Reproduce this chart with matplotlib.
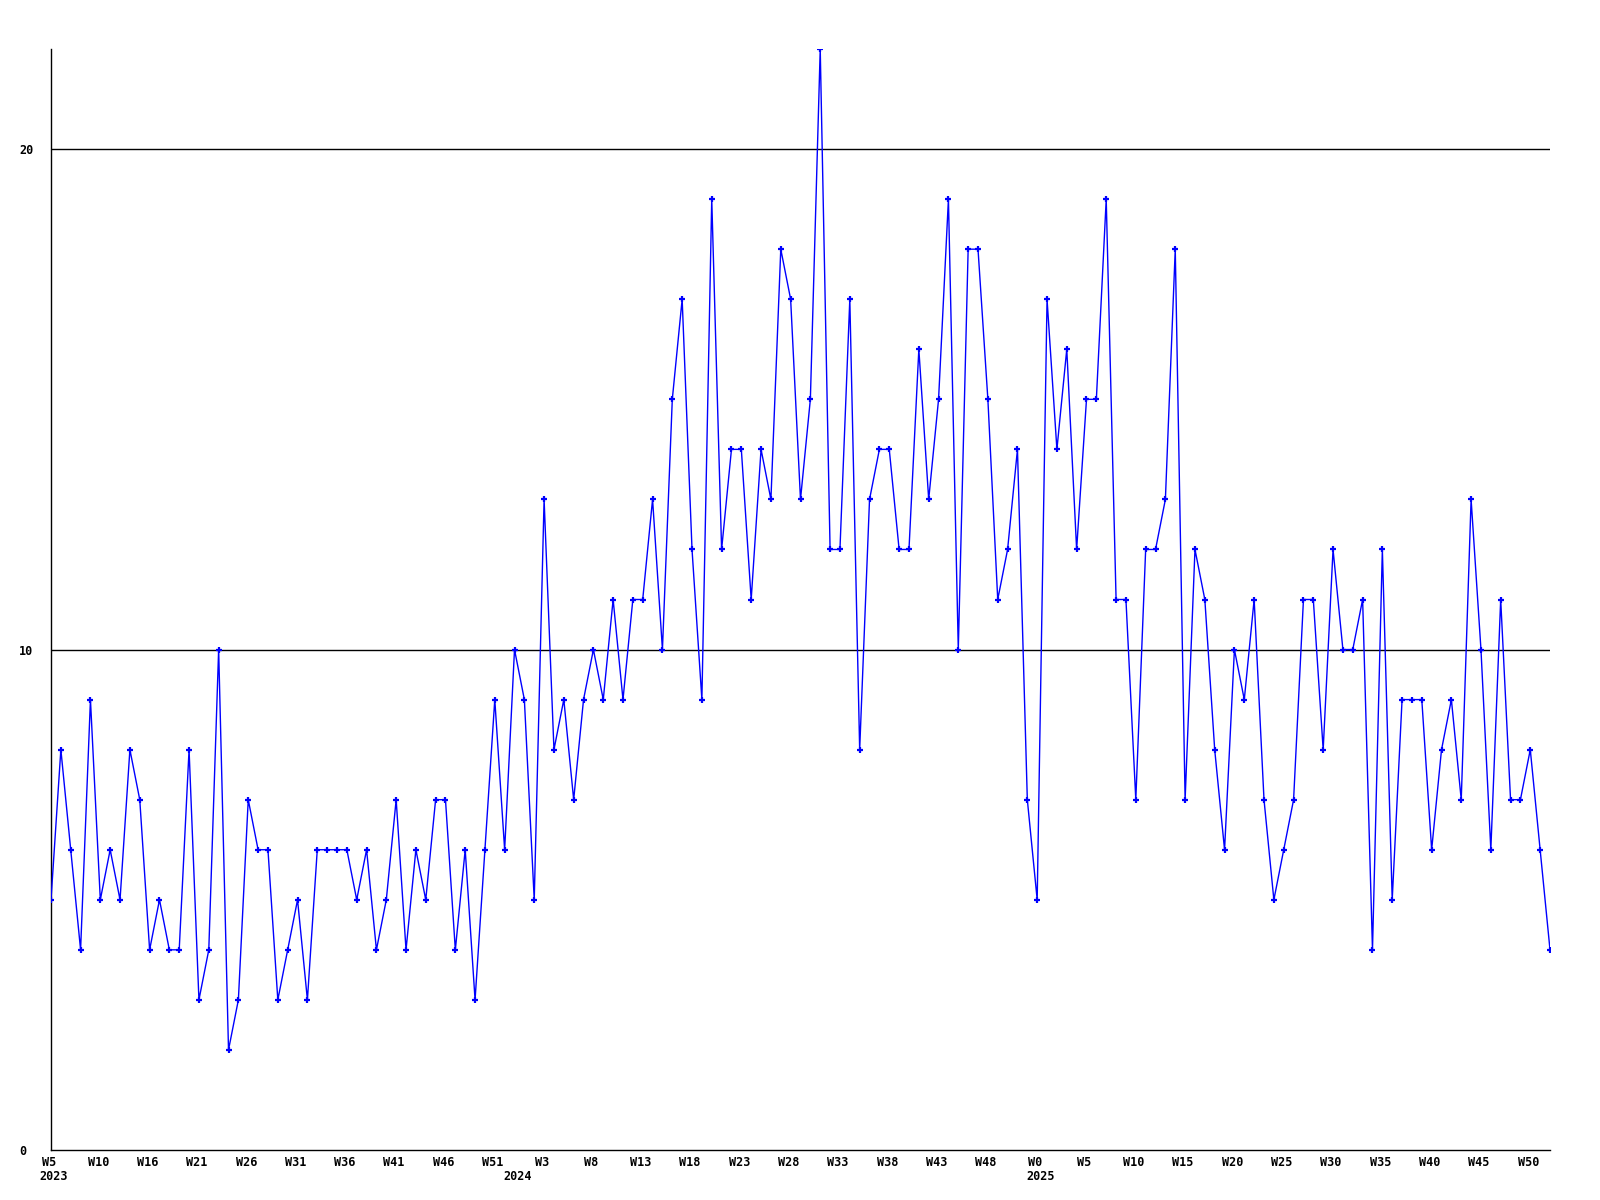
import matplotlib
matplotlib.use("Agg")
import matplotlib.pyplot as plt
import matplotlib.transforms as mtransforms

# Weekly counts, 2023 W5 .. 2025 W52 (one value per plotted week)
values = [5, 8, 6, 4, 9, 5, 6, 5, 8, 7, 4, 5, 4, 4, 8, 3, 4, 10, 2, 3,
          7, 6, 6, 3, 4, 5, 3, 6, 6, 6, 6, 5, 6, 4, 5, 7, 4, 6, 5, 7,
          7, 4, 6, 3, 6, 9, 6, 10, 9, 5, 13, 8, 9, 7, 9, 10, 9, 11, 9, 11,
          11, 13, 10, 15, 17, 12, 9, 19, 12, 14, 14, 11, 14, 13, 18, 17, 13, 15, 22, 12,
          12, 17, 8, 13, 14, 14, 12, 12, 16, 13, 15, 19, 10, 18, 18, 15, 11, 12, 14, 7,
          5, 17, 14, 16, 12, 15, 15, 19, 11, 11, 7, 12, 12, 13, 18, 7, 12, 11, 8, 6,
          10, 9, 11, 7, 5, 6, 7, 11, 11, 8, 12, 10, 10, 11, 4, 12, 5, 9, 9, 9,
          6, 8, 9, 7, 13, 10, 6, 11, 7, 7, 8, 6, 4]

week_labels = ["W5", "W10", "W16", "W21", "W26", "W31", "W36", "W41", "W46", "W51",
               "W3", "W8", "W13", "W18", "W23", "W28", "W33", "W38", "W43", "W48",
               "W0", "W5", "W10", "W15", "W20", "W25", "W30", "W35", "W40", "W45", "W50"]
label_step = 5
year_labels = ["2023", "2024", "2025"]
year_positions = [0, 47, 100]
y_ticks = [0, 10, 20]

x = list(range(len(values)))

fig = plt.figure(figsize=(16, 12), dpi=100)
W, H = 1600, 1200
left, right, top, bottom = 51, 1550, 49, 1150
ax = fig.add_axes([left / W, 1 - bottom / H, (right - left) / W, (bottom - top) / H])

mono = dict(family="DejaVu Sans Mono", weight="bold", size=8.5)

for yv in y_ticks[1:]:
    ax.axhline(yv, color="black", lw=1.0, zorder=1)

ax.plot(x, values, color="#0000ff", lw=1.0, marker="+", markersize=5,
        markeredgewidth=1.6, zorder=3)

ax.set_xlim(0, len(values) - 1)
ax.set_ylim(0, 22)

for s in ["top", "right"]:
    ax.spines[s].set_visible(False)
for s in ["left", "bottom"]:
    ax.spines[s].set_color("black")
    ax.spines[s].set_linewidth(1.0)

ax.set_xticks(x[::label_step])
ax.set_xticklabels(week_labels, **mono)
ax.set_yticks(y_ticks)
ax.set_yticklabels([str(v) for v in y_ticks], **mono)
ax.tick_params(axis="both", length=0)
ax.tick_params(axis="x", pad=4)
ax.tick_params(axis="y", pad=23)
for lab in ax.get_yticklabels():
    lab.set_horizontalalignment("left")
for lab in ax.get_xticklabels():
    lab.set_transform(lab.get_transform() + mtransforms.Affine2D().translate(-2, 0))

off = mtransforms.offset_copy(ax.get_xaxis_transform(), fig=fig, x=3, y=-27, units="dots")
for yl, xp in zip(year_labels, year_positions):
    ax.text(xp, 0, yl, transform=off, ha="center", va="center", **mono)

fig.savefig("out.png", dpi=100, facecolor="white")
